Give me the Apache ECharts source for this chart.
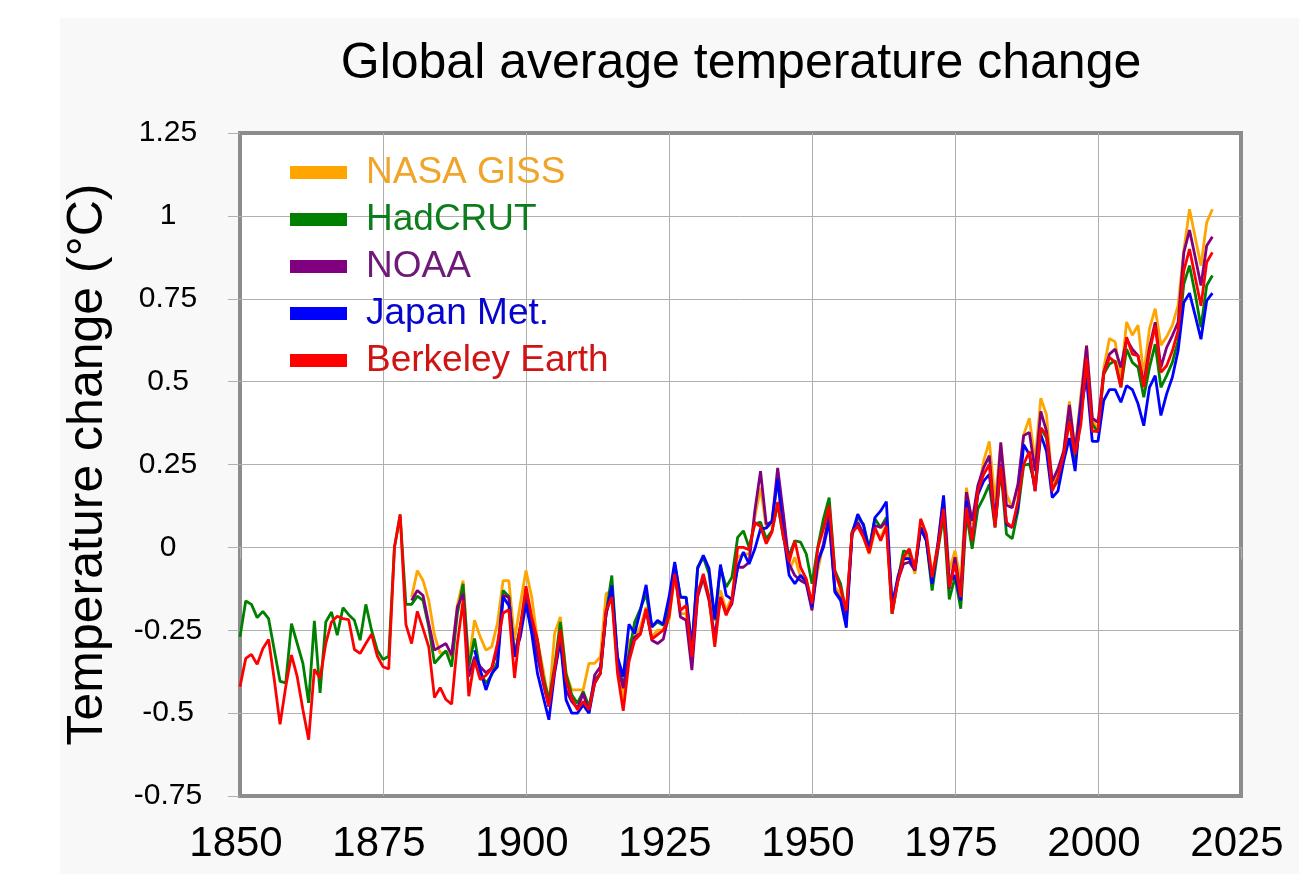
<!DOCTYPE html>
<html>
<head>
<meta charset="utf-8">
<title>Global average temperature change</title>
<script src="https://cdn.jsdelivr.net/npm/echarts@6/dist/echarts.min.js"></script>
<style>
    html, body { margin: 0; padding: 0; background: #fff; }
    #panel { position: absolute; left: 60px; top: 18px; width: 1239px; height: 856px; background: #f8f8f8; }
    #chart { position: absolute; left: 0; top: 0; width: 1299px; height: 874px; }
</style>
</head>
<body>
<div id="panel"></div>
<div id="chart"></div>
<script>
var yTicks = [-0.75, -0.5, -0.25, 0, 0.25, 0.5, 0.75, 1, 1.25];
var names = ['NASA GISS', 'HadCRUT', 'NOAA', 'Japan Met.', 'Berkeley Earth'];
var firstYears = [1880, 1850, 1880, 1891, 1850];
var lineColors = ['#ffa500', '#008000', '#800080', '#0000ff', '#ff0000'];
var textColors = ['#f0a52a', '#0c7c1c', '#6e1a78', '#0505cc', '#cf1414'];

// NASA GISS, 1880 to 2020
var nasaGiss = [
    -0.15, -0.07, -0.10, -0.16, -0.265, -0.32, -0.315, -0.33, -0.175, -0.10,
    -0.35, -0.22, -0.27, -0.31, -0.30, -0.23, -0.10, -0.10, -0.28, -0.17,
    -0.07, -0.15, -0.28, -0.37, -0.47, -0.26, -0.21, -0.38, -0.43, -0.43,
    -0.43, -0.35, -0.35, -0.33, -0.14, -0.13, -0.36, -0.46, -0.28, -0.27,
    -0.24, -0.18, -0.27, -0.25, -0.25, -0.22, -0.08, -0.20, -0.20, -0.34,
    -0.14, -0.10, -0.16, -0.29, -0.13, -0.19, -0.15, -0.03, -0.02, -0.02,
    0.09, 0.18, 0.06, 0.07, 0.20, 0.09, -0.07, -0.03, -0.09, -0.10,
    -0.17, -0.07, 0.01, 0.08, -0.12, -0.14, -0.20, 0.04, 0.07, 0.03,
    -0.02, 0.05, 0.03, 0.07, -0.20, -0.10, -0.04, -0.02, -0.08, 0.07,
    0.03, -0.08, 0.01, 0.15, -0.07, -0.01, -0.10, 0.18, 0.07, 0.16,
    0.26, 0.32, 0.14, 0.31, 0.16, 0.12, 0.18, 0.34, 0.39, 0.26,
    0.45, 0.40, 0.19, 0.22, 0.29, 0.44, 0.29, 0.46, 0.61, 0.39,
    0.35, 0.54, 0.63, 0.62, 0.51, 0.68, 0.64, 0.67, 0.52, 0.66,
    0.72, 0.61, 0.635, 0.67, 0.73, 0.895, 1.02, 0.935, 0.85, 0.98,
    1.02
];
// HadCRUT, 1850 to 2020
var hadCrut = [
    -0.27, -0.162, -0.172, -0.212, -0.193, -0.215, -0.31, -0.404, -0.409, -0.23,
    -0.29, -0.35, -0.469, -0.222, -0.439, -0.225, -0.195, -0.265, -0.182, -0.203,
    -0.22, -0.28, -0.172, -0.25, -0.31, -0.338, -0.328, 0, 0.096, -0.172,
    -0.172, -0.147, -0.16, -0.24, -0.35, -0.33, -0.312, -0.36, -0.20, -0.11,
    -0.36, -0.275, -0.375, -0.41, -0.385, -0.345, -0.13, -0.148, -0.33, -0.24,
    -0.155, -0.22, -0.28, -0.39, -0.46, -0.36, -0.225, -0.38, -0.445, -0.47,
    -0.435, -0.48, -0.40, -0.38, -0.20, -0.085, -0.34, -0.42, -0.32, -0.225,
    -0.185, -0.14, -0.24, -0.225, -0.235, -0.18, -0.05, -0.15, -0.15, -0.32,
    -0.06, -0.03, -0.08, -0.22, -0.06, -0.12, -0.09, 0.03, 0.05, 0,
    0.07, 0.076, 0.026, 0.05, 0.13, 0.03, -0.024, 0.02, 0.016, -0.02,
    -0.11, 0, 0.086, 0.15, -0.07, -0.11, -0.20, 0.046, 0.09, 0.07,
    -0.004, 0.086, 0.06, 0.09, -0.20, -0.10, -0.01, -0.017, -0.06, 0.06,
    0.02, -0.13, -0.01, 0.096, -0.157, -0.09, -0.185, 0.10, -0.004, 0.116,
    0.15, 0.19, 0.06, 0.237, 0.04, 0.026, 0.11, 0.247, 0.252, 0.19,
    0.36, 0.33, 0.177, 0.20, 0.27, 0.39, 0.26, 0.39, 0.553, 0.372,
    0.347, 0.523, 0.553, 0.563, 0.483, 0.598, 0.558, 0.543, 0.453, 0.543,
    0.613, 0.483, 0.518, 0.558, 0.623, 0.794, 0.85, 0.764, 0.664, 0.79,
    0.82
];
// NOAA, 1880 to 2020
var noaa = [
    -0.16, -0.13, -0.145, -0.23, -0.31, -0.30, -0.29, -0.325, -0.18, -0.14,
    -0.39, -0.33, -0.36, -0.378, -0.365, -0.31, -0.145, -0.15, -0.33, -0.24,
    -0.14, -0.23, -0.33, -0.41, -0.48, -0.37, -0.27, -0.43, -0.465, -0.485,
    -0.44, -0.50, -0.385, -0.36, -0.20, -0.14, -0.35, -0.425, -0.33, -0.27,
    -0.26, -0.19, -0.28, -0.29, -0.277, -0.20, -0.07, -0.21, -0.22, -0.37,
    -0.15, -0.09, -0.16, -0.27, -0.15, -0.20, -0.17, -0.06, -0.06, -0.045,
    0.11, 0.23, 0.07, 0.076, 0.24, 0.10, -0.05, -0.085, -0.10, -0.11,
    -0.19, -0.05, 0.01, 0.10, -0.13, -0.155, -0.22, 0.04, 0.076, 0.04,
    -0.01, 0.066, 0.06, 0.08, -0.17, -0.10, -0.05, -0.044, -0.07, 0.056,
    0.02, -0.10, -0.004, 0.13, -0.125, -0.03, -0.145, 0.167, 0.08, 0.187,
    0.24, 0.277, 0.07, 0.317, 0.127, 0.12, 0.19, 0.337, 0.347, 0.23,
    0.41, 0.35, 0.20, 0.237, 0.29, 0.43, 0.29, 0.44, 0.608, 0.39,
    0.377, 0.528, 0.583, 0.598, 0.543, 0.628, 0.598, 0.578, 0.493, 0.603,
    0.679, 0.543, 0.603, 0.639, 0.679, 0.889, 0.957, 0.875, 0.79, 0.91,
    0.937
];
// Japan Met., 1891 to 2020
var japanMet = [
    -0.31, -0.37, -0.43, -0.38, -0.36, -0.15, -0.175, -0.33, -0.27,
    -0.17, -0.26, -0.38, -0.45, -0.52, -0.38, -0.28, -0.46, -0.50, -0.50,
    -0.475, -0.50, -0.41, -0.38, -0.20, -0.115, -0.33, -0.39, -0.232, -0.26,
    -0.19, -0.113, -0.24, -0.22, -0.232, -0.15, -0.044, -0.15, -0.152, -0.30,
    -0.064, -0.024, -0.064, -0.215, -0.052, -0.145, -0.157, -0.06, -0.014, -0.05,
    -0.005, 0.056, 0.058, 0.08, 0.207, 0.04, -0.084, -0.11, -0.084, -0.104,
    -0.18, -0.04, 0, 0.08, -0.135, -0.16, -0.242, 0.04, 0.10, 0.066,
    -0.01, 0.09, 0.11, 0.138, -0.18, -0.09, -0.034, -0.034, -0.064, 0.06,
    0.02, -0.11, 0.01, 0.157, -0.104, -0.084, -0.16, 0.14, 0.02, 0.16,
    0.20, 0.22, 0.07, 0.25, 0.07, 0.06, 0.12, 0.31, 0.28, 0.17,
    0.34, 0.29, 0.15, 0.17, 0.26, 0.33, 0.23, 0.42, 0.51, 0.32,
    0.32, 0.443, 0.476, 0.476, 0.438, 0.488, 0.476, 0.433, 0.367, 0.483,
    0.518, 0.398, 0.463, 0.513, 0.593, 0.739, 0.767, 0.699, 0.628, 0.744,
    0.767
];
// Berkeley Earth, 1850 to 2020
var berkeley = [
    -0.42, -0.335, -0.323, -0.353, -0.305, -0.278, -0.40, -0.534, -0.42, -0.325,
    -0.39, -0.49, -0.58, -0.368, -0.395, -0.29, -0.225, -0.208, -0.215, -0.218,
    -0.308, -0.32, -0.29, -0.262, -0.328, -0.36, -0.367, 0, 0.10, -0.232,
    -0.29, -0.193, -0.245, -0.30, -0.453, -0.423, -0.459, -0.473, -0.29, -0.16,
    -0.449, -0.34, -0.399, -0.386, -0.365, -0.29, -0.198, -0.188, -0.394, -0.24,
    -0.117, -0.21, -0.28, -0.40, -0.48, -0.37, -0.25, -0.40, -0.455, -0.49,
    -0.465, -0.49, -0.41, -0.38, -0.19, -0.15, -0.38, -0.493, -0.345, -0.28,
    -0.262, -0.185, -0.277, -0.263, -0.25, -0.21, -0.08, -0.19, -0.175, -0.33,
    -0.14, -0.08, -0.15, -0.30, -0.15, -0.205, -0.16, 0, 0, -0.007,
    0.075, 0.063, 0.011, 0.046, 0.137, 0.03, -0.044, 0.02, -0.06, -0.095,
    -0.17, -0.004, 0.056, 0.126, -0.074, -0.125, -0.19, 0.046, 0.063, 0.03,
    -0.017, 0.06, 0.02, 0.063, -0.20, -0.104, -0.03, -0.004, -0.064, 0.086,
    0.04, -0.09, 0, 0.116, -0.12, -0.05, -0.15, 0.12, 0.02, 0.17,
    0.22, 0.25, 0.06, 0.247, 0.076, 0.06, 0.14, 0.25, 0.29, 0.17,
    0.36, 0.34, 0.17, 0.21, 0.28, 0.38, 0.28, 0.37, 0.57, 0.35,
    0.35, 0.523, 0.573, 0.558, 0.483, 0.634, 0.583, 0.578, 0.483, 0.588,
    0.669, 0.528, 0.548, 0.593, 0.654, 0.834, 0.90, 0.814, 0.729, 0.86,
    0.89
];

var values = [nasaGiss, hadCrut, noaa, japanMet, berkeley];
var font = '"Liberation Sans", Arial, sans-serif';

function makeSeries(i) {
    return {
        name: names[i],
        type: 'line',
        showSymbol: false,
        symbol: 'none',
        lineStyle: { color: lineColors[i], width: 2.8 },
        itemStyle: { color: lineColors[i] },
        data: values[i].map(function (v, k) { return [firstYears[i] + k, v]; })
    };
}

var myChart = echarts.init(document.getElementById('chart'));
myChart.setOption({
    animation: false,
    backgroundColor: 'transparent',
    title: {
        text: 'Global average temperature change',
        left: 736,
        top: 34,
        textAlign: 'center',
        textStyle: { fontFamily: font, fontSize: 50, fontWeight: 'normal', color: '#000' }
    },
    legend: {
        orient: 'vertical',
        left: 290,
        top: 154,
        padding: 0,
        itemWidth: 57,
        itemHeight: 13,
        itemGap: 10,
        icon: 'rect',
        selectedMode: false,
        textStyle: { fontFamily: font, fontSize: 37, lineHeight: 35, padding: [2, 0, 0, 14] },
        data: names.map(function (n, i) {
            return { name: n, textStyle: { color: textColors[i] } };
        })
    },
    grid: {
        left: 240,
        top: 133,
        width: 1001,
        height: 663,
        show: true,
        backgroundColor: '#fff',
        borderColor: '#8c8c8c',
        borderWidth: 4
    },
    xAxis: {
        type: 'value',
        min: 1850,
        max: 2025,
        interval: 25,
        axisLine: { show: false },
        axisTick: { show: true, length: 12, lineStyle: { color: '#b0b0b0', width: 1 } },
        splitLine: { show: true, showMinLine: false, showMaxLine: false, lineStyle: { color: '#b0b0b0', width: 1 } },
        axisLabel: {
            fontFamily: font, fontSize: 42, color: '#000', margin: 27, padding: [0, 8, 0, 0],
            showMinLabel: true, showMaxLabel: true,
            formatter: function (v) { return String(v); }
        }
    },
    yAxis: {
        type: 'value',
        min: yTicks[0],
        max: yTicks[yTicks.length - 1],
        interval: 0.25,
        name: 'Temperature change (°C)',
        nameLocation: 'middle',
        nameGap: 127,
        nameTextStyle: { fontFamily: font, fontSize: 50, color: '#000' },
        axisLine: { show: false },
        axisTick: { show: true, length: 12, lineStyle: { color: '#b0b0b0', width: 1 } },
        splitLine: { show: true, showMinLine: false, showMaxLine: false, lineStyle: { color: '#b0b0b0', width: 1 } },
        axisLabel: {
            fontFamily: font, fontSize: 30, color: '#000', margin: 72, align: 'center', padding: [8, 0, 0, 0],
            showMinLabel: true, showMaxLabel: true
        }
    },
    series: names.map(function (n, i) { return makeSeries(i); })
});
</script>
</body>
</html>
